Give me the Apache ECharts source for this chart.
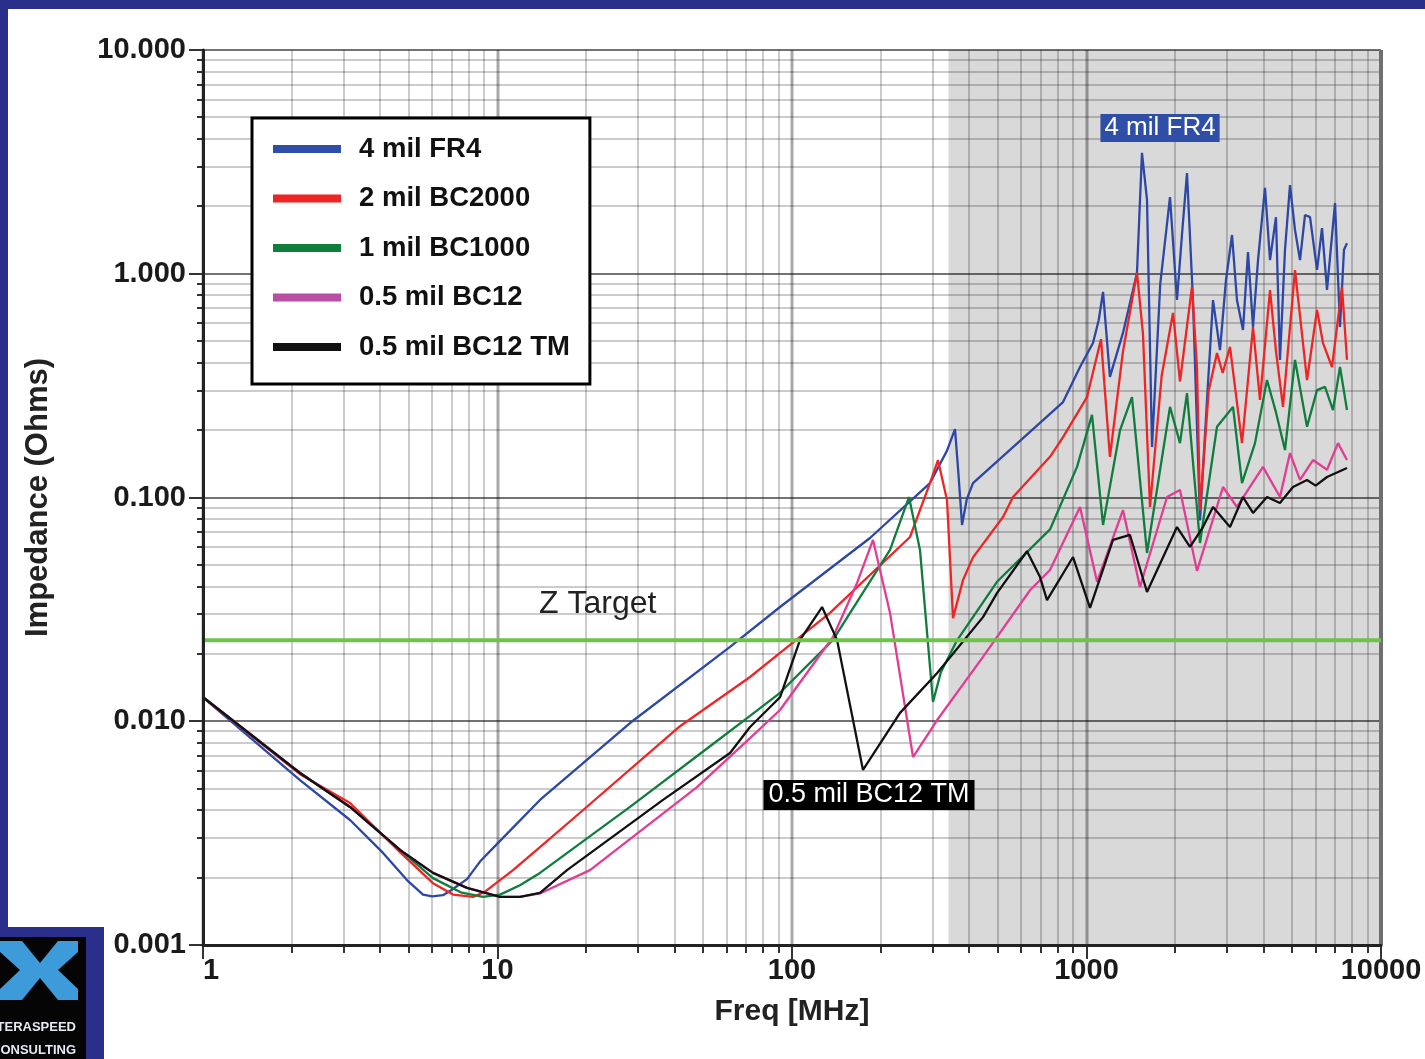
<!DOCTYPE html>
<html>
<head>
<meta charset="utf-8">
<script src="https://cdn.jsdelivr.net/npm/echarts@6/dist/echarts.min.js"></script>
<style>
  html, body { margin: 0; padding: 0; background: #ffffff; }
  #chart { width: 1425px; height: 1059px; }
</style>
</head>
<body>
<div id="chart"></div>
<script>
// Plane impedance vs. frequency for five dielectric stack-ups, [freq MHz, |Z| ohms]
const seriesNames = ['4 mil FR4', '2 mil BC2000', '1 mil BC1000', '0.5 mil BC12', '0.5 mil BC12 TM'];

const fr4 = [
  [1, 0.0128], [2.135, 0.00546], [3.157, 0.00362], [4.086, 0.00258], [4.927, 0.00195],
  [5.585, 0.00168], [6.0, 0.00165], [6.53, 0.00167], [7.062, 0.00178], [7.879, 0.00197],
  [8.722, 0.00236], [10.2, 0.00292], [13.94, 0.00445], [28.18, 0.00982], [61.6, 0.0215],
  [91.05, 0.0324], [184, 0.0659], [294.1, 0.116], [336, 0.162], [357.7, 0.202],
  [367, 0.13], [377.9, 0.0754], [392, 0.098], [411.7, 0.116], [563, 0.168],
  [832.4, 0.267], [950.6, 0.383], [1052, 0.49], [1100, 0.62], [1138, 0.83],
  [1201, 0.346], [1330, 0.544], [1484, 1.01], [1543, 3.47], [1605, 2.14],
  [1669, 0.168], [1780, 0.9], [1921, 2.2], [2029, 0.763], [2110, 1.5],
  [2194, 2.82], [2299, 0.763], [2429, 0.079], [2566, 0.273], [2689, 0.763],
  [2840, 0.456], [2976, 0.938], [3120, 1.49], [3243, 0.763], [3399, 0.561],
  [3535, 1.25], [3676, 0.578], [3823, 1.15], [4037, 2.42], [4199, 1.15],
  [4399, 1.79], [4539, 0.412], [4721, 1.28], [4909, 2.49], [5105, 1.57],
  [5309, 1.15], [5520, 1.83], [5741, 1.79], [6064, 1.04], [6305, 1.6],
  [6556, 0.846], [6980, 2.07], [7258, 0.578], [7487, 1.28], [7665, 1.37]
];

const bc2000 = [
  [1, 0.0128], [2.135, 0.0058], [3.157, 0.00431], [4.666, 0.0026], [6.039, 0.00189],
  [7.062, 0.00168], [8.257, 0.00164], [9.0, 0.00172], [10.2, 0.00195], [11.29, 0.00216],
  [13.94, 0.00274], [19.06, 0.0039], [41.66, 0.0095], [72.03, 0.01577], [91.05, 0.0202],
  [134.6, 0.0305], [251.6, 0.0666], [294.1, 0.116], [313.1, 0.147], [336, 0.0975],
  [352.2, 0.0289], [380.8, 0.0428], [411.7, 0.054], [520.6, 0.0818], [563, 0.1005],
  [751.8, 0.152], [832.4, 0.186], [1004, 0.281], [1120, 0.51], [1201, 0.152],
  [1330, 0.45], [1484, 1.01], [1555, 0.54], [1643, 0.0907], [1800, 0.35],
  [1967, 0.668], [2077, 0.33], [2281, 0.873], [2372, 0.383], [2429, 0.088],
  [2600, 0.3], [2774, 0.442], [2900, 0.36], [3071, 0.471], [3373, 0.175], [3676, 0.578],
  [3882, 0.273], [4199, 0.846], [4400, 0.45], [4647, 0.254], [5105, 1.039], [5608, 0.335],
  [6064, 0.689], [6355, 0.49], [6817, 0.383], [7372, 0.873], [7665, 0.412]
];

const bc1000 = [
  [1, 0.0128], [2.135, 0.00587], [3.157, 0.00414], [4.666, 0.00266], [6.039, 0.00199],
  [7.5, 0.00172], [8.929, 0.00164], [10.2, 0.00168], [11.92, 0.00185], [13.94, 0.0021],
  [28.18, 0.00414], [53.91, 0.00791], [72.03, 0.01056], [91.05, 0.0134], [137.8, 0.0231],
  [215.2, 0.0583], [249.6, 0.1005], [272, 0.0583], [301.1, 0.0122], [320, 0.0165],
  [363.4, 0.023], [496.7, 0.042], [751.8, 0.072], [928.6, 0.137], [1044, 0.234],
  [1138, 0.0754], [1300, 0.2], [1427, 0.281], [1605, 0.0565], [1921, 0.254], [2077, 0.175],
  [2194, 0.293], [2429, 0.0626], [2774, 0.207], [3144, 0.254], [3373, 0.116],
  [3734, 0.175], [4101, 0.335], [4400, 0.24], [4721, 0.163], [5105, 0.412], [5608, 0.207],
  [6064, 0.302], [6454, 0.312], [6871, 0.246], [7258, 0.383], [7665, 0.246]
];

const bc12 = [
  [1, 0.0128], [2.135, 0.00587], [3.157, 0.00414], [4.666, 0.00266], [6.039, 0.0021],
  [7.879, 0.0018], [10.2, 0.00164], [11.92, 0.00164], [13.94, 0.0017], [20.61, 0.00216],
  [47.58, 0.00508], [72.03, 0.00841], [91.05, 0.01123], [137.8, 0.0238], [166.3, 0.0415],
  [188.4, 0.0646], [215.2, 0.0305], [257.6, 0.00692], [310.7, 0.0101], [445.2, 0.0194],
  [643, 0.0385], [751.8, 0.0474], [950.6, 0.0907], [1086, 0.042], [1330, 0.0879],
  [1519, 0.0398], [1877, 0.1005], [2077, 0.108], [2372, 0.047], [2908, 0.1114],
  [3243, 0.0907], [3974, 0.137], [4539, 0.1005], [4909, 0.158], [5309, 0.12],
  [5877, 0.147], [6556, 0.133], [7145, 0.175], [7665, 0.147]
];

const bc12tm = [
  [1, 0.0128], [2.135, 0.00587], [3.157, 0.00414], [4.666, 0.00266], [6.039, 0.0021],
  [7.879, 0.0018], [10.2, 0.00164], [11.92, 0.00164], [13.94, 0.00171], [17.22, 0.00216],
  [36.48, 0.00445], [61.6, 0.00721], [72.03, 0.00943], [91.05, 0.0128], [106.5, 0.0231],
  [126.5, 0.0324], [142.2, 0.0231], [174.2, 0.00606], [232.7, 0.0109], [310.7, 0.0164],
  [445.2, 0.0292], [496.7, 0.0374], [628.1, 0.0575], [695.3, 0.0441], [734.4, 0.0348],
  [900.1, 0.0542], [1028, 0.0321], [1230, 0.0646], [1405, 0.068], [1605, 0.0378],
  [2029, 0.0738], [2246, 0.0601], [2486, 0.0738], [2689, 0.0907], [3071, 0.0738],
  [3399, 0.1005], [3676, 0.0853], [4101, 0.1005], [4539, 0.0945], [5025, 0.1114],
  [5608, 0.1197], [6000, 0.113], [6556, 0.1235], [7665, 0.1354]
];

// Target impedance and annotations
const zTarget = 0.023;
const zTargetLabelAt = [21.9, 0.0334];
const fr4LabelAt = [1777, 4.48];
const tmLabelAt = [182.6, 0.00468];

// Shaded band start (MHz) and axis ranges
const shadeFrom = 340;
const xRange = [1, 10000];
const yRange = [0.001, 10];
const xDecades = [1, 10, 100, 1000, 10000];
const yDecades = [0.001, 0.01, 0.1, 1, 10];

const FONT = '"Liberation Sans", Arial, sans-serif';
const NAVY = '#2b2f8c';

// Log grid: item kinds 0 = shade, 1 = x minor, 2 = x major, 3 = y minor, 4 = y major, 5 = frame
const gridItems = [[shadeFrom, 1, 0]];
for (let i = 0; i < xDecades.length - 1; i++) {
  for (let k = 2; k <= 9; k++) gridItems.push([k * xDecades[i], 1, 1]);
}
for (let i = 0; i < yDecades.length - 1; i++) {
  for (let k = 2; k <= 9; k++) gridItems.push([1, +(k * yDecades[i]).toPrecision(3), 3]);
}
xDecades.forEach(v => gridItems.push([v, 1, 2]));
yDecades.forEach(v => gridItems.push([1, v, 4]));
gridItems.push([1, 1, 5]);

function renderGrid(params, api) {
  const cs = params.coordSys;
  const left = cs.x, top = cs.y, right = cs.x + cs.width, bottom = cs.y + cs.height;
  const kind = api.value(2);
  if (kind === 0) {
    const x0 = api.coord([api.value(0), 1])[0];
    return { type: 'rect', shape: { x: x0, y: top, width: right - x0, height: bottom - top },
             style: { fill: '#d9d9d9' } };
  }
  if (kind === 1 || kind === 2) {
    const x = Math.round(api.coord([api.value(0), 1])[0]);
    const major = kind === 2;
    return { type: 'group', children: [
      { type: 'line', shape: { x1: x, y1: top, x2: x, y2: bottom },
        style: { stroke: major ? 'rgba(0,0,0,0.34)' : 'rgba(0,0,0,0.2)', lineWidth: major ? 3 : 2 } },
      { type: 'line', shape: { x1: x, y1: bottom, x2: x, y2: bottom + (major ? 14 : 8) },
        style: { stroke: '#333', lineWidth: 2 } }
    ] };
  }
  if (kind === 3 || kind === 4) {
    const y = Math.round(api.coord([1, api.value(1)])[1]);
    const major = kind === 4;
    return { type: 'group', children: [
      { type: 'line', shape: { x1: left, y1: y, x2: right, y2: y },
        style: { stroke: major ? 'rgba(0,0,0,0.55)' : 'rgba(0,0,0,0.2)', lineWidth: 2 } },
      { type: 'line', shape: { x1: left - (major ? 14 : 6), y1: y, x2: left, y2: y },
        style: { stroke: '#333', lineWidth: 2 } }
    ] };
  }
  // right-hand frame edge
  return { type: 'line', shape: { x1: right, y1: top, x2: right, y2: bottom },
           style: { stroke: '#6f6f6f', lineWidth: 4 } };
}

const colors = {
  line: ['#2d47a5', '#ef2525', '#0f7d3c', '#e23c93', '#111111'],
  legend: ['#2f4ea8', '#ef2525', '#0f7d3c', '#b84fa3', '#111111']
};
const curveData = [fr4, bc2000, bc1000, bc12, bc12tm];

const curveSeries = curveData.map((d, i) => ({
  name: seriesNames[i],
  type: 'line',
  data: d,
  symbol: 'none',
  z: 3 + i,
  lineStyle: { color: colors.line[i], width: 2.3 },
  itemStyle: { color: colors.legend[i] }
}));

curveSeries[0].markPoint = {
  symbol: 'rect', symbolSize: 0, silent: true,
  data: [{ coord: fr4LabelAt }],
  label: { show: true, position: 'inside', formatter: seriesNames[0],
           color: '#ffffff', fontFamily: FONT, fontSize: 26,
           backgroundColor: '#2f4ea6', padding: [2, 4, 0, 4] }
};
curveSeries[4].markPoint = {
  symbol: 'rect', symbolSize: 0, silent: true,
  data: [{ coord: tmLabelAt }],
  label: { show: true, position: 'inside', formatter: seriesNames[4],
           color: '#ffffff', fontFamily: FONT, fontSize: 27,
           backgroundColor: '#000000', padding: [2, 5, 1, 5] }
};

const option = {
  animation: false,
  backgroundColor: '#ffffff',
  grid: { left: 203, top: 50, width: 1178, height: 895, containLabel: false },
  xAxis: {
    type: 'log', logBase: 10, min: xRange[0], max: xRange[1], z: 10,
    name: 'Freq [MHz]', nameLocation: 'middle', nameGap: 52,
    nameTextStyle: { fontFamily: FONT, fontWeight: 'bold', fontSize: 30, color: '#222' },
    axisLine: { show: true, lineStyle: { color: '#222', width: 3 } },
    axisTick: { show: false },
    splitLine: { show: false },
    axisLabel: { margin: 11, fontFamily: FONT, fontWeight: 'bold', fontSize: 29, color: '#1a1a1a',
                 alignMinLabel: 'left', formatter: v => String(Math.round(v)) }
  },
  yAxis: {
    type: 'log', logBase: 10, min: yRange[0], max: yRange[1], z: 10,
    name: 'Impedance (Ohms)', nameLocation: 'middle', nameRotate: 90, nameGap: 149,
    nameTextStyle: { fontFamily: FONT, fontWeight: 'bold', fontSize: 31, color: '#222' },
    axisLine: { show: true, lineStyle: { color: '#222', width: 3 } },
    axisTick: { show: false },
    splitLine: { show: false },
    axisLabel: { margin: 17, fontFamily: FONT, fontWeight: 'bold', fontSize: 29, color: '#1a1a1a',
                 formatter: v => v.toFixed(3) }
  },
  legend: {
    data: seriesNames, orient: 'vertical', left: 252, top: 118,
    icon: 'rect', itemWidth: 68, itemHeight: 8, itemGap: 19.5,
    padding: [16, 20, 22, 21], selectedMode: false,
    backgroundColor: '#ffffff', borderColor: '#000000', borderWidth: 3,
    textStyle: { fontFamily: FONT, fontWeight: 'bold', fontSize: 27.5, color: '#111',
                 lineHeight: 30, padding: [0, 0, 0, 13] }
  },
  series: [
    {
      type: 'custom', name: 'grid', silent: true, clip: false, z: 1,
      renderItem: renderGrid, encode: { x: 0, y: 1 }, data: gridItems
    },
    ...curveSeries,
    {
      name: 'Z Target', type: 'line', symbol: 'none', z: 9, silent: true,
      data: [[xRange[0], zTarget], [xRange[1], zTarget]],
      lineStyle: { color: '#6fc24b', width: 4 },
      markPoint: {
        symbol: 'rect', symbolSize: 0, silent: true,
        data: [{ coord: zTargetLabelAt }],
        label: { show: true, position: 'inside', formatter: 'Z Target',
                 color: '#222', fontFamily: FONT, fontSize: 32 }
      }
    }
  ],
  graphic: [
    { type: 'rect', x: 0, y: 0, shape: { width: 1425, height: 9 }, style: { fill: NAVY } },
    { type: 'rect', x: 0, y: 0, shape: { width: 8, height: 1059 }, style: { fill: NAVY } },
    {
      type: 'group', x: 0, y: 927, children: [
        { type: 'rect', shape: { x: 0, y: 0, width: 104, height: 132 }, style: { fill: NAVY } },
        { type: 'rect', shape: { x: 0, y: 10, width: 86, height: 122 }, style: { fill: '#050505' } },
        { type: 'rect', shape: { x: 0, y: 14, width: 78, height: 59 }, style: { fill: '#3d9bd9' } },
        { type: 'polygon', shape: { points: [[22, 14], [58, 14], [40, 36]] }, style: { fill: '#050505' } },
        { type: 'polygon', shape: { points: [[22, 73], [58, 73], [40, 51]] }, style: { fill: '#050505' } },
        { type: 'polygon', shape: { points: [[0, 25], [0, 62], [20, 43]] }, style: { fill: '#050505' } },
        { type: 'polygon', shape: { points: [[78, 25], [78, 62], [58, 43]] }, style: { fill: '#050505' } },
        { type: 'text', style: { x: 76, y: 100, text: 'TERASPEED', align: 'right', verticalAlign: 'middle',
            fill: '#e4e9f2', font: 'bold 13px "Liberation Sans", Arial, sans-serif' } },
        { type: 'text', style: { x: 76, y: 123, text: 'CONSULTING', align: 'right', verticalAlign: 'middle',
            fill: '#e4e9f2', font: 'bold 13px "Liberation Sans", Arial, sans-serif' } }
      ]
    }
  ]
};

const chart = echarts.init(document.getElementById('chart'), null, { renderer: 'canvas' });
chart.setOption(option);
</script>
</body>
</html>
